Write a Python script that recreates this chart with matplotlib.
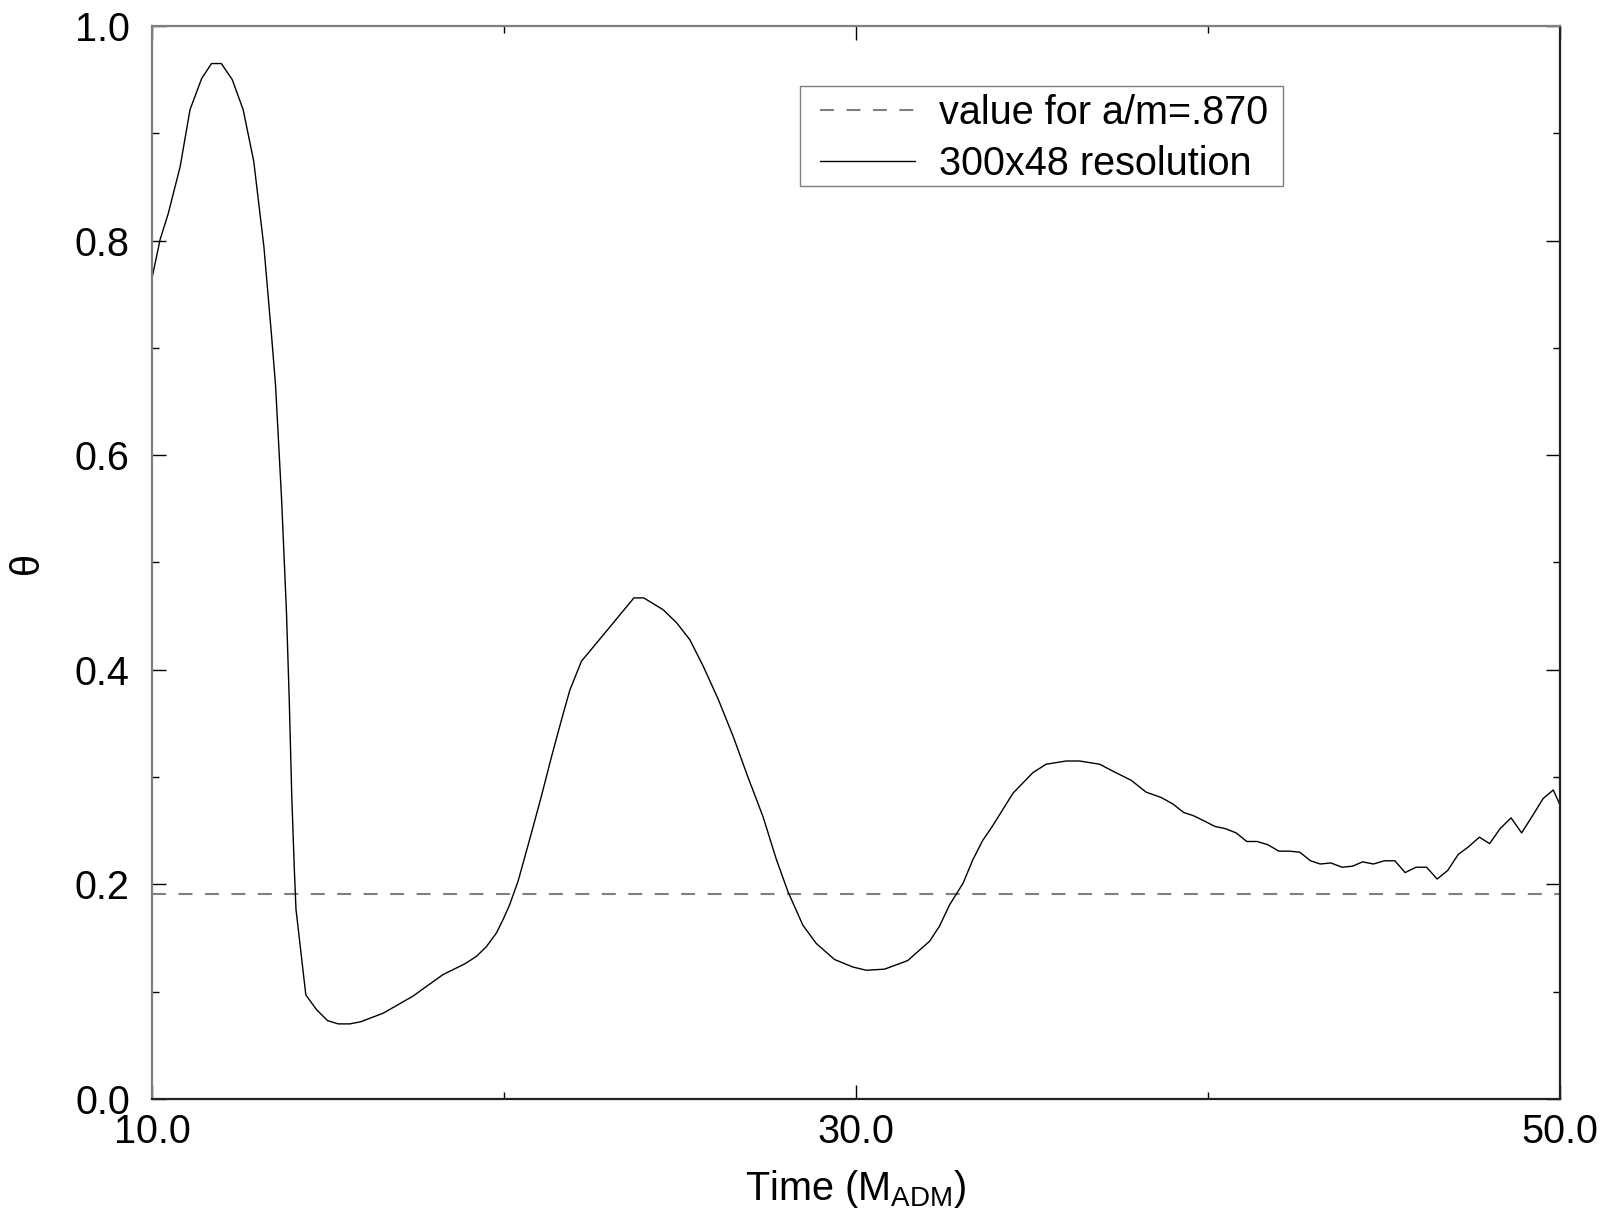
"""
theta(t) 曲线 — 300x48 分辨率与 a/m=.870 参考值对比
"""

import matplotlib
matplotlib.use("Agg")
import matplotlib.pyplot as plt
from matplotlib.patches import Rectangle
from matplotlib.ticker import MultipleLocator

# ── 数据 ─────────────────────────────────────────────
time = [
    10.00, 10.23, 10.46, 10.80, 11.08, 11.41, 11.69, 11.97, 12.28, 12.59,
    12.89, 13.18, 13.40, 13.51, 13.68, 13.82, 13.90, 13.97, 14.04, 14.09,
    14.37, 14.68, 14.99, 15.29, 15.62, 15.93, 16.57, 17.42, 17.80, 18.27,
    18.89, 19.22, 19.50, 19.79, 19.97, 20.16, 20.40, 20.78, 21.06, 21.35,
    21.63, 21.87, 22.20, 22.96, 23.69, 23.97, 24.52, 24.90, 25.28, 25.65,
    26.08, 26.51, 26.93, 27.36, 27.74, 28.07, 28.49, 28.87, 29.39, 29.91,
    30.29, 30.81, 31.47, 32.09, 32.37, 32.66, 33.04, 33.32, 33.60, 33.89,
    34.46, 35.02, 35.40, 35.97, 36.35, 36.92, 37.39, 37.82, 38.24, 38.67,
    39.00, 39.31, 39.59, 39.90, 40.20, 40.49, 40.80, 41.10, 41.39, 41.70,
    42.01, 42.31, 42.61, 42.91, 43.19, 43.49, 43.81, 44.11, 44.39, 44.70,
    45.01, 45.31, 45.60, 45.91, 46.21, 46.51, 46.81, 47.11, 47.40, 47.71,
    48.00, 48.30, 48.61, 48.91, 49.22, 49.52, 49.81, 50.00,
]
theta = [
    0.765, 0.801, 0.825, 0.869, 0.922, 0.951, 0.965, 0.965, 0.950, 0.922,
    0.874, 0.794, 0.710, 0.665, 0.560, 0.454, 0.371, 0.283, 0.217, 0.177,
    0.097, 0.083, 0.073, 0.070, 0.070, 0.072, 0.080, 0.096, 0.105, 0.116,
    0.126, 0.133, 0.142, 0.155, 0.167, 0.181, 0.203, 0.248, 0.282, 0.319,
    0.353, 0.381, 0.408, 0.438, 0.467, 0.467, 0.456, 0.444, 0.428, 0.404,
    0.373, 0.338, 0.300, 0.263, 0.223, 0.193, 0.162, 0.145, 0.130, 0.123,
    0.120, 0.121, 0.129, 0.147, 0.161, 0.181, 0.201, 0.223, 0.241, 0.255,
    0.285, 0.304, 0.312, 0.315, 0.315, 0.312, 0.304, 0.297, 0.286, 0.281,
    0.275, 0.267, 0.264, 0.259, 0.254, 0.252, 0.248, 0.240, 0.240, 0.237,
    0.231, 0.231, 0.230, 0.222, 0.219, 0.220, 0.216, 0.217, 0.221, 0.219,
    0.222, 0.222, 0.211, 0.216, 0.216, 0.205, 0.213, 0.228, 0.235, 0.244,
    0.238, 0.252, 0.262, 0.248, 0.264, 0.280, 0.288, 0.274,
]
ref_value = 0.191          # a/m=.870 对应的值

x_ticks = [10.0, 30.0, 50.0]
y_ticks = [0.0, 0.2, 0.4, 0.6, 0.8, 1.0]

label_ref = "value for a/m=.870"
label_run = "300x48 resolution"

# ── 字体 ────────────────────────────────────────────────────
plt.rcParams["font.family"] = ["Liberation Sans", "DejaVu Sans"]
plt.rcParams["mathtext.fontset"] = "custom"
plt.rcParams["mathtext.rm"] = "Liberation Sans"
plt.rcParams["mathtext.it"] = "Liberation Sans:italic"
FS = 28.5
W, H = 1610, 1215


def main():
    fig = plt.figure(figsize=(W / 100, H / 100), dpi=100)
    ax = fig.add_axes([152 / W, 1 - 1099 / H, 1408 / W, 1073 / H])

    ax.axhline(ref_value, color="#7f7f7f", linewidth=1.5,
               dashes=(6.7, 6.0), label=label_ref)
    ax.plot(time, theta, color="black", linewidth=1.0, label=label_run)

    ax.set_xlim(10, 50)
    ax.set_ylim(0, 1)
    ax.set_xticks(x_ticks)
    ax.set_xticklabels([f"{v:.1f}" for v in x_ticks])
    ax.set_yticks(y_ticks)
    ax.set_yticklabels([f"{v:.1f}" for v in y_ticks])
    ax.xaxis.set_minor_locator(MultipleLocator(10))
    ax.yaxis.set_minor_locator(MultipleLocator(0.1))

    ax.tick_params(which="both", direction="in", top=True, right=True,
                   width=1.0, colors="black", labelsize=FS)
    ax.tick_params(which="major", length=10)
    ax.tick_params(which="minor", length=5)
    ax.tick_params(axis="x", pad=10)
    ax.tick_params(axis="y", pad=16)

    # 边框：左/上灰色，右/下深色
    for side in ["left", "top"]:
        ax.spines[side].set_color("#7f7f7f")
        ax.spines[side].set_linewidth(1.6)
    for side in ["right", "bottom"]:
        ax.spines[side].set_color("#222222")
        ax.spines[side].set_linewidth(1.6)

    ax.set_xlabel(r"Time (M$_{\mathrm{ADM}}$)", fontsize=FS, labelpad=12)
    ax.set_ylabel("θ", fontsize=FS, labelpad=21)

    # ── 图例：边框单独画，便于控制内边距 ──
    fig.patches.append(Rectangle(
        (800 / W, 1 - 186 / H), 483 / W, 100 / H,
        transform=fig.transFigure, facecolor="white",
        edgecolor="#7f7f7f", linewidth=1.0, zorder=3,
    ))
    fig.legend(
        loc="upper left",
        bbox_to_anchor=(820 / W, 1 - 94 / H),
        bbox_transform=fig.transFigure,
        borderaxespad=0,
        borderpad=0,
        fontsize=FS,
        frameon=False,
        handlelength=2.4,
        handletextpad=0.6,
        labelspacing=0.32,
    ).set_zorder(4)

    fig.savefig("out.png", dpi=100)
    plt.close(fig)


if __name__ == "__main__":
    main()
